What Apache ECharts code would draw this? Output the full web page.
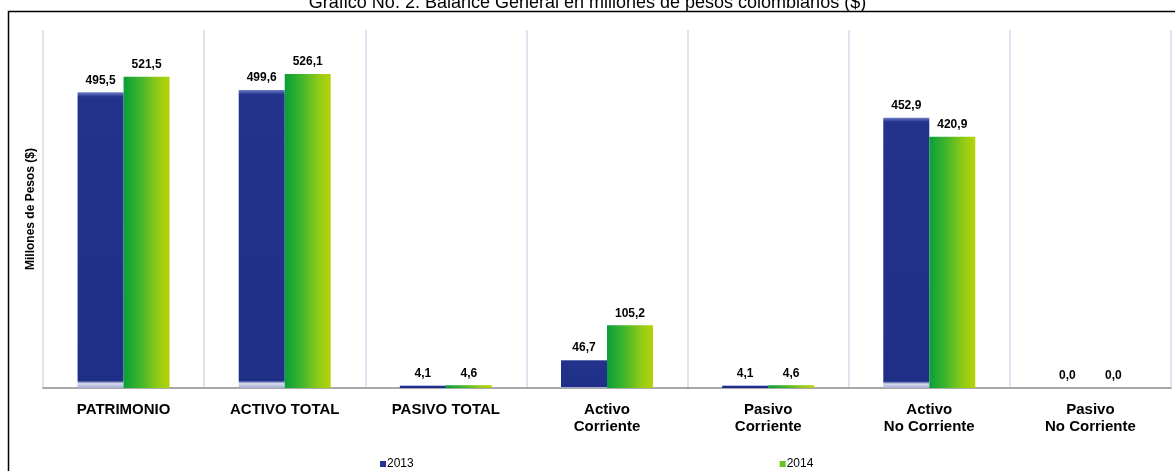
<!DOCTYPE html>
<html>
<head>
<meta charset="utf-8">
<script src="https://cdn.jsdelivr.net/npm/echarts@6/dist/echarts.min.js"></script>
<style>
  html, body { margin: 0; padding: 0; background: #fff; }
  #chart { width: 1175px; height: 471px; }
</style>
</head>
<body>
<div id="chart"></div>
<script>
var categories = ['PATRIMONIO', 'ACTIVO TOTAL', 'PASIVO TOTAL', 'Activo\nCorriente', 'Pasivo\nCorriente', 'Activo\nNo Corriente', 'Pasivo\nNo Corriente'];
var values2013 = [495.5, 499.6, 4.1, 46.7, 4.1, 452.9, 0.0];
var values2014 = [521.5, 526.1, 4.6, 105.2, 4.6, 420.9, 0.0];
var seriesNames = ['2013', '2014'];

var chart = echarts.init(document.getElementById('chart'));

// sombreado de las barras (azul vertical, verde horizontal)
var blueFill = new echarts.graphic.LinearGradient(0, 0, 0, 1, [
  { offset: 0, color: '#6f7fc8' },
  { offset: 0.015, color: '#23338c' },
  { offset: 0.975, color: '#1f2f88' },
  { offset: 0.985, color: '#d6daee' },
  { offset: 1, color: '#a5acd4' }
]);
var greenFill = new echarts.graphic.LinearGradient(0, 0, 1, 0, [
  { offset: 0, color: '#0a9e3a' },
  { offset: 0.35, color: '#3db52c' },
  { offset: 0.75, color: '#93cb16' },
  { offset: 1, color: '#b7d20a' }
]);

function label() {
  return {
    show: true,
    position: 'top',
    distance: 6,
    fontFamily: 'Liberation Sans, Arial',
    fontWeight: 'bold',
    fontSize: 12,
    color: '#000',
    formatter: function (p) { return p.value.toFixed(1).replace('.', ','); }
  };
}

chart.setOption({
  animation: false,
  title: {
    text: 'Gráfico No. 2. Balance General en millones de pesos colombianos ($)',
    left: 'center',
    top: -11,
    textStyle: { fontFamily: 'Liberation Sans, Arial', fontWeight: 'normal', fontSize: 18, color: '#000' }
  },
  graphic: [{
    type: 'rect',
    shape: { x: 8.5, y: 11.5, width: 1300, height: 600 },
    style: { fill: 'none', stroke: '#000', lineWidth: 1.5 },
    silent: true
  }],
  legend: {
    data: [
      { name: seriesNames[0], itemStyle: { color: '#24348f' } },
      { name: seriesNames[1], itemStyle: { color: '#6fbf1f' } }
    ],
    left: 375,
    bottom: -4,
    itemWidth: 6,
    itemHeight: 6,
    itemGap: 366,
    icon: 'rect',
    textStyle: { fontFamily: 'Liberation Sans, Arial', fontSize: 12, color: '#000', padding: [0, 0, 0, -4] }
  },
  grid: { left: 43, right: 4, top: 30, bottom: 83 },
  xAxis: {
    type: 'category',
    data: categories,
    axisLine: { lineStyle: { color: '#8c8c8c', width: 1.5 } },
    axisTick: { show: false },
    splitLine: { show: true, lineStyle: { color: '#d5ddeb', width: 1.5 } },
    axisLabel: {
      interval: 0,
      margin: 13,
      fontFamily: 'Liberation Sans, Arial',
      fontWeight: 'bold',
      fontSize: 15,
      lineHeight: 17,
      color: '#000'
    }
  },
  yAxis: {
    type: 'value',
    min: 0,
    max: 600,
    name: 'Millones de Pesos ($)',
    nameLocation: 'middle',
    nameGap: 6,
    nameTextStyle: { fontFamily: 'Liberation Sans, Arial', fontWeight: 'bold', fontSize: 12, color: '#000' },
    axisLine: { show: false },
    axisTick: { show: false },
    axisLabel: { show: false },
    splitLine: { show: false }
  },
  series: [
    {
      name: seriesNames[0],
      type: 'bar',
      data: values2013,
      barWidth: 46,
      barGap: '0%',
      itemStyle: { color: blueFill },
      label: label()
    },
    {
      name: seriesNames[1],
      type: 'bar',
      data: values2014,
      barWidth: 46,
      barGap: '0%',
      itemStyle: { color: greenFill },
      label: label()
    }
  ]
});
</script>
</body>
</html>
